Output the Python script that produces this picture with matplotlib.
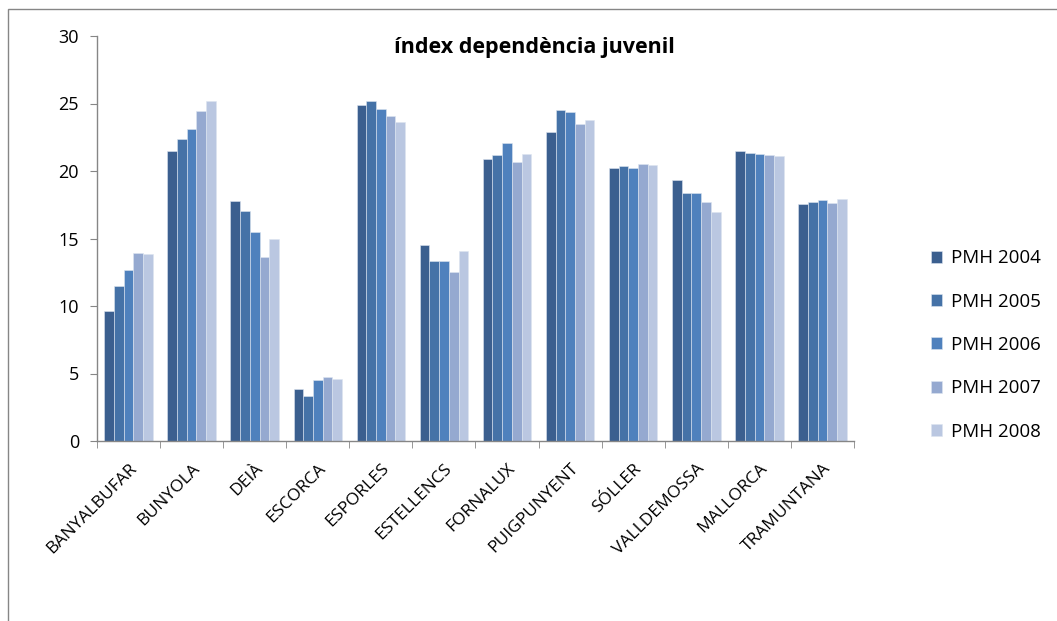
import numpy as np
import matplotlib
matplotlib.use("Agg")
import matplotlib.pyplot as plt
from matplotlib.patches import Rectangle

# --- data ---
municipis = ["BANYALBUFAR", "BUNYOLA", "DEIÀ", "ESCORCA", "ESPORLES", "ESTELLENCS",
             "FORNALUX", "PUIGPUNYENT", "SÓLLER", "VALLDEMOSSA", "MALLORCA", "TRAMUNTANA"]
series_names = ["PMH 2004", "PMH 2005", "PMH 2006", "PMH 2007", "PMH 2008"]

pmh_2004 = [9.65, 21.45, 17.8, 3.85, 24.9, 14.5, 20.9, 22.9, 20.25, 19.3, 21.45, 17.55]
pmh_2005 = [11.5, 22.35, 17.05, 3.35, 25.2, 13.3, 21.15, 24.55, 20.35, 18.35, 21.3, 17.7]
pmh_2006 = [12.65, 23.1, 15.5, 4.5, 24.6, 13.3, 22.1, 24.35, 20.25, 18.4, 21.25, 17.85]
pmh_2007 = [13.95, 24.45, 13.6, 4.75, 24.1, 12.5, 20.65, 23.45, 20.55, 17.7, 21.2, 17.6]
pmh_2008 = [13.85, 25.15, 15.0, 4.6, 23.6, 14.05, 21.25, 23.75, 20.45, 17.0, 21.1, 17.9]

colors = ["#3B5F8F", "#4572A7", "#4F81BD", "#95A9D0", "#BAC7E1"]

plt.rcParams['font.family'] = ['Open Sans', 'DejaVu Sans']

fig = plt.figure(figsize=(10.57, 6.21), dpi=100)
W, H = 1057, 621
ax = fig.add_axes([97 / W, 1 - 441 / H, (854 - 97) / W, (441 - 36) / H])

# chart area border (Excel style)
fig.patches.append(Rectangle((8 / W, -0.05), 1.2, 1 - 9 / H + 0.05, transform=fig.transFigure,
                             fill=False, edgecolor="#868686", linewidth=1.0))

x = np.arange(len(municipis))
bar_w = 1 / 6.5
all_series = [pmh_2004, pmh_2005, pmh_2006, pmh_2007, pmh_2008]
for i, (vals, name, c) in enumerate(zip(all_series, series_names, colors)):
    offs = (i - 2) * bar_w
    ax.bar(x + offs, vals, width=bar_w, color=c, label=name,
           edgecolor="#DDE5F0", linewidth=0.4)

ax.set_xlim(-0.5, len(municipis) - 0.5)
ax.set_ylim(0, 30)
ax.set_yticks(range(0, 31, 5))

for s in ["top", "right"]:
    ax.spines[s].set_visible(False)
for s in ["left", "bottom"]:
    ax.spines[s].set_color("#868686")
    ax.spines[s].set_linewidth(1.0)

ax.tick_params(axis="y", direction="out", length=5, color="#868686", labelsize=13, pad=8)
ax.set_xticks(x)
ax.set_xticklabels(municipis, rotation=45, ha="right", rotation_mode="anchor", fontsize=12.5)
ax.tick_params(axis="x", which="major", length=0, pad=14)
ax.set_xticks(np.arange(-0.5, len(municipis), 1), minor=True)
ax.tick_params(axis="x", which="minor", direction="out", length=5, color="#868686")

fig.text(534 / W, 1 - 47 / H, "índex dependència juvenil", ha="center", va="center",
         fontsize=15.5, fontweight="bold")

ax.legend(loc="center left", bbox_to_anchor=(914 / W, 1 - 345 / H), bbox_transform=fig.transFigure,
          frameon=False, fontsize=13.5, handlelength=0.6, handleheight=0.6,
          labelspacing=1.35, handletextpad=0.45)

fig.savefig("out.png", dpi=100)
